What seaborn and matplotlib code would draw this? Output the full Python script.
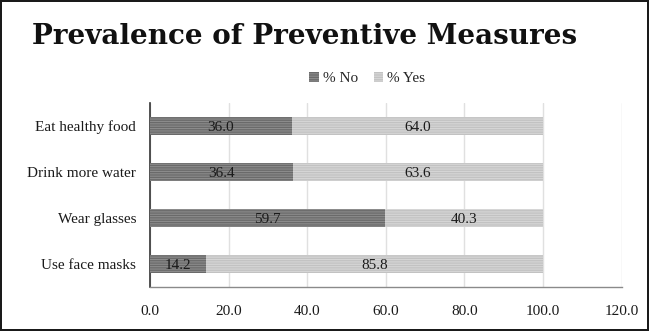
import matplotlib
matplotlib.use("Agg")
import matplotlib.pyplot as plt
import matplotlib.patches as mpatches
import seaborn as sns
import pandas as pd

categories = ["Eat healthy food", "Drink more water", "Wear glasses", "Use face masks"]
pct_no = [36.0, 36.4, 59.7, 14.2]
pct_yes = [64.0, 63.6, 40.3, 85.8]
xticks = [0, 20, 40, 60, 80, 100, 120]

sns.set_theme(style="white")
plt.rcParams["font.family"] = ["Liberation Serif", "DejaVu Serif"]
plt.rcParams["hatch.linewidth"] = 0.9

df = pd.DataFrame({"cat": categories, "no": pct_no, "yes": pct_yes})
df["total"] = df["no"] + df["yes"]

fig = plt.figure(figsize=(6.49, 3.31), dpi=100)
fig.patch.set_edgecolor("#1a1a1a")
fig.patch.set_linewidth(1.5)
ax = fig.add_axes([0.2311, 0.133, 0.7269, 0.556])

dark_face, dark_hatch = "#8c8c8c", "#6a6a6a"
light_face, light_hatch = "#d6d6d6", "#c2c2c2"

sns.barplot(data=df, x="total", y="cat", color=light_face, width=0.41,
            saturation=1, ax=ax, zorder=2)
n = len(ax.patches)
sns.barplot(data=df, x="no", y="cat", color=dark_face, width=0.41,
            saturation=1, ax=ax, zorder=3)
for i, p in enumerate(ax.patches):
    p.set_hatch("-------")
    p.set_edgecolor(light_hatch if i < n else dark_hatch)
    p.set_linewidth(0)

for i, (a, b) in enumerate(zip(pct_no, pct_yes)):
    ax.text(a / 2, i + 0.03, f"{a:.1f}", ha="center", va="center",
            fontsize=11, color="#1a1a1a", zorder=5)
    ax.text(a + b / 2, i + 0.03, f"{b:.1f}", ha="center", va="center",
            fontsize=11, color="#1a1a1a", zorder=5)

ax.set_xlim(0, 120)
ax.set_ylim(3.5, -0.5)
ax.set_xticks(xticks)
ax.set_xticklabels([f"{v:.1f}" for v in xticks])
ax.set_xlabel("")
ax.set_ylabel("")
ax.xaxis.grid(True, color="#e0e0e0", linewidth=1, zorder=0)
ax.set_axisbelow(True)
ax.tick_params(axis="x", length=0, pad=13, labelsize=11, labelcolor="#1a1a1a")
ax.tick_params(axis="y", length=0, pad=10, labelsize=11, labelcolor="#1a1a1a")
for s in ["top", "right"]:
    ax.spines[s].set_visible(False)
ax.spines["left"].set_color("#333333")
ax.spines["left"].set_linewidth(1.2)
ax.spines["bottom"].set_color("#8a8a8a")
ax.spines["bottom"].set_linewidth(1.0)

h_no = mpatches.Patch(facecolor=dark_face, edgecolor=dark_hatch, hatch="-------", linewidth=0)
h_yes = mpatches.Patch(facecolor=light_face, edgecolor=light_hatch, hatch="-------", linewidth=0)
fig.legend([h_no, h_yes], ["% No", "% Yes"], loc="center", bbox_to_anchor=(0.566, 0.762),
           ncol=2, frameon=False, fontsize=11, handlelength=0.6, handleheight=0.6,
           handletextpad=0.3, columnspacing=1.0)

fig.text(0.47, 0.889, "Prevalence of Preventive Measures", ha="center", va="center",
         fontsize=20, fontweight="bold", family=["DejaVu Serif"], color="#111111")

fig.savefig("out.png", dpi=100, edgecolor=fig.get_edgecolor())
